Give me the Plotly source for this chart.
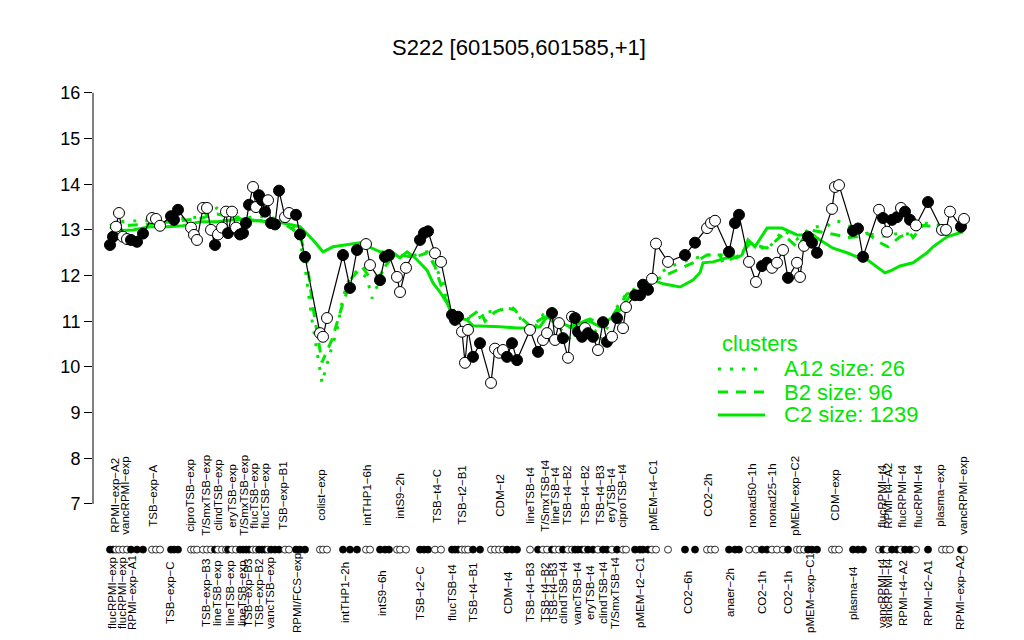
import plotly.graph_objects as go

# sample positions along the strip (left to right), expression level, filled dot or not
pos = [10, 13, 16, 19, 23, 27, 31, 37, 43, 52, 56, 60, 71, 74, 78, 91, 94, 97,
       103, 107, 111, 115, 118, 122, 126, 128, 132, 136, 140, 143, 146, 149, 153, 156,
       159, 162, 165, 168, 171, 175, 179, 185, 189, 196, 200, 205, 220, 223, 227,
       243, 250, 257, 266, 270, 280, 285, 289, 297, 300, 306, 320, 324, 328, 335, 341,
       352, 355, 358, 362, 365, 368, 373, 380, 391, 395, 399, 403, 407, 412, 417,
       430, 438, 443, 447, 452, 455, 459, 463, 468, 472, 475, 478, 482, 485, 488, 493,
       498, 503, 507, 512, 517, 523, 526, 535, 540, 543, 548, 552, 556, 568, 585, 595,
       607, 611, 615, 629, 635, 639, 649, 656, 662, 667, 672, 677, 683, 688, 697, 700,
       704, 708, 712, 717, 732, 735, 739, 753, 758, 763, 779, 783, 787, 792, 797, 801,
       805, 810, 816, 828, 842, 846, 850, 861, 864]
expr = [12.67, 12.85, 13.07, 13.37, 12.85, 12.80, 12.78, 12.74, 12.92, 13.26, 13.24, 13.09,
        13.30, 13.22, 13.44, 13.05, 12.89, 12.78, 13.48, 13.48, 13.00, 12.67, 12.90, 13.05,
        13.40, 12.93, 13.40, 13.05, 12.90, 12.93, 13.15, 13.55, 13.94, 13.50, 13.76, 13.65,
        13.40, 13.65, 13.15, 13.12, 13.86, 13.28, 13.37, 13.33, 12.90, 12.41, 10.74, 10.66,
        11.07, 12.45, 11.73, 12.56, 12.69, 12.23, 11.90, 12.41, 12.45, 11.97, 11.64, 12.17,
        12.78, 12.93, 12.97, 12.49, 12.30, 11.14, 11.03, 11.10, 10.77, 10.09, 10.81, 10.22,
        10.52, 9.65, 10.40, 10.31, 10.37, 10.22, 10.52, 10.15, 10.81, 10.33, 10.59, 10.74,
        11.18, 10.59, 10.96, 10.63, 10.20, 11.10, 11.07, 10.77, 10.66, 10.85, 10.74, 10.66,
        10.37, 10.98, 10.55, 10.66, 11.07, 10.85, 11.31, 11.57, 11.57, 11.80, 11.69, 11.93,
        12.70, 12.30, 12.45, 12.72, 13.04, 13.15, 13.20, 12.52, 13.15, 13.33, 12.30, 11.86,
        12.21, 12.28, 12.17, 12.28, 12.56, 11.95, 12.28, 11.97, 12.65, 12.85, 12.72, 12.50,
        13.46, 13.94, 13.98, 12.98, 13.03, 12.41, 13.44, 13.26, 12.96, 13.22, 13.28, 13.48,
        13.40, 13.22, 13.10, 13.61, 13.00, 13.00, 13.40, 13.07, 13.24]
filled = [1, 1, 0, 0, 0, 0, 1, 1, 1, 0, 0, 0, 1, 1, 1, 0, 0, 0,
          0, 0, 0, 1, 0, 0, 0, 1, 0, 0, 1, 1, 1, 1, 0, 0,
          1, 1, 1, 0, 1, 1, 1, 0, 0, 1, 1, 1, 0, 0, 0,
          1, 1, 1, 0, 0, 1, 1, 1, 0, 0, 0, 1, 1, 1, 0, 0,
          1, 1, 1, 0, 0, 0, 1, 1, 0, 0, 0, 0, 1, 1, 1,
          0, 1, 0, 0, 1, 0, 0, 1, 0, 0, 1, 1, 1, 0, 1, 1,
          0, 1, 1, 0, 1, 0, 0, 1, 1, 1, 1, 0, 0, 0, 1, 1,
          0, 0, 0, 1, 1, 1, 0, 0, 1, 1, 0, 0, 0, 1, 0, 0,
          0, 1, 1, 1, 0, 0, 0, 1, 1, 1, 0, 1, 0, 1, 1, 0,
          1, 1, 0, 1, 0, 0, 0, 1, 0]

# cluster profiles
a12_pos = [10, 20, 57, 100, 117, 130, 147, 157, 173, 190, 200, 205, 212, 217, 222, 230, 237,
           243, 250, 258, 267, 272, 280, 287, 297, 307, 315, 327, 333, 343, 347, 353, 373,
           382, 387, 400, 413, 418, 423, 433, 443, 453, 473, 480, 490, 500, 510, 517, 527,
           533, 553, 570, 590, 607, 620, 640, 650, 660, 667, 678, 683, 697, 710, 717, 727,
           733, 740, 757, 767, 780, 800, 813, 823, 840, 850, 863]
a12_val = [13.10, 13.18, 13.22, 13.28, 13.48, 13.30, 13.26, 13.30, 13.26, 13.20, 12.74, 12.19,
           11.03, 10.30, 9.65, 10.30, 10.80, 11.53, 11.97, 12.12, 11.95, 11.50, 11.90, 12.28,
           12.50, 12.41, 12.45, 12.52, 12.30, 11.86, 11.40, 11.18, 11.03, 11.10, 11.20, 11.25,
           11.29, 11.18, 10.92, 10.81, 11.14, 11.00, 10.55, 11.00, 11.00, 10.59, 10.96, 11.31,
           11.62, 11.69, 11.95, 12.20, 12.35, 12.45, 12.45, 12.45, 12.72, 12.63, 12.56, 12.85,
           13.00, 12.80, 13.04, 13.07, 13.07, 13.20, 13.18, 13.00, 12.93, 12.85, 12.93, 12.90,
           13.15, 13.10, 13.04, 13.00]

b2_pos = [10, 30, 60, 100, 117, 150, 180, 200, 207, 213, 222, 232, 243, 252, 262, 270, 280,
          290, 300, 315, 327, 335, 345, 355, 370, 380, 385, 395, 405, 415, 420, 430, 445,
          460, 475, 490, 505, 515, 527, 540, 555, 575, 595, 607, 620, 623, 640, 650, 667,
          683, 697, 710, 737, 747, 757, 767, 780, 788, 800, 810, 813, 823, 840, 863]
b2_val = [13.05, 13.10, 13.15, 13.25, 13.35, 13.20, 13.20, 12.90, 12.30, 11.30, 10.10, 10.60,
          11.40, 11.95, 12.20, 11.95, 12.00, 12.35, 12.45, 12.40, 12.50, 12.20, 11.50, 11.20,
          11.10, 11.25, 11.00, 11.20, 11.30, 11.25, 11.10, 10.90, 11.10, 10.90, 10.85, 11.05,
          10.90, 11.20, 11.60, 11.65, 11.90, 12.10, 12.30, 12.45, 12.45, 12.28, 12.45, 12.70,
          12.60, 12.90, 12.63, 13.00, 12.89, 12.83, 12.85, 12.93, 12.72, 12.63, 12.85, 12.93,
          12.83, 13.10, 13.05, 13.00]

c2_pos = [10, 17, 33, 50, 67, 83, 100, 117, 133, 150, 167, 183, 200, 213, 223, 233, 260, 280,
          293, 300, 307, 315, 327, 333, 340, 347, 353, 367, 373, 400, 417, 430, 440, 447, 453,
          470, 480, 487, 500, 513, 520, 527, 533, 547, 553, 563, 580, 593, 600, 603, 613, 627,
          637, 642, 648, 655, 667, 682, 697, 713, 720, 733, 747, 757, 767, 785, 792, 800, 813,
          827, 833, 847, 863]
c2_val = [13.07, 12.98, 13.00, 13.07, 13.07, 13.09, 13.18, 13.18, 13.22, 13.22, 13.18, 13.15,
          13.07, 12.78, 12.52, 12.63, 12.72, 12.52, 12.50, 12.39, 12.52, 12.39, 12.12, 11.84,
          11.64, 11.40, 11.10, 11.03, 10.90, 10.88, 10.85, 10.85, 10.88, 11.10, 11.03, 10.88,
          10.96, 11.03, 10.88, 11.10, 11.25, 11.47, 11.62, 11.64, 11.90, 11.82, 11.75, 11.90,
          12.06, 12.28, 12.30, 12.39, 12.39, 12.45, 12.78, 12.63, 13.04, 13.04, 12.89, 12.89,
          12.78, 12.60, 12.50, 12.41, 12.35, 12.06, 12.12, 12.21, 12.28, 12.50, 12.63, 12.85,
          12.96]

clusters = [("A12 size: 26", a12_pos, a12_val, "3px,9px"),
            ("B2 size: 96", b2_pos, b2_val, "10px,8px"),
            ("C2 size: 1239", c2_pos, c2_val, "solid")]

top_labels = [("RPMI\u2212exp\u2212A2", 15), ("vancRPMI\u2212exp", 25), ("TSB\u2212exp\u2212A", 53),
              ("ciproTSB\u2212exp", 90), ("T/SmxTSB\u2212exp", 106), ("clindTSB\u2212exp", 118),
              ("eryTSB\u2212exp", 132), ("T/SmxTSB\u2212exp", 144), ("flucTSB\u2212exp", 154),
              ("flucTSB\u2212exp", 165), ("TSB\u2212exp\u2212B1", 183), ("colist\u2212exp", 221),
              ("intTHP1\u22126h", 267), ("intS9\u22122h", 300), ("TSB\u2212t4\u2212C", 337),
              ("TSB\u2212t2\u2212B1", 362), ("CDM\u2212t2", 400), ("lineTSB\u2212t4", 430),
              ("T/SmxTSB\u2212t4", 445), ("lineTSB\u2212t4", 455), ("TSB\u2212t4\u2212B2", 467),
              ("TSB\u2212t4\u2212B2", 485), ("TSB\u2212t4\u2212B3", 500), ("eryTSB\u2212t4", 511),
              ("ciproTSB\u2212t4", 522), ("pMEM\u2212t4\u2212C1", 553), ("CO2\u22122h", 608),
              ("nonad50\u22121h", 652), ("nonad25\u22121h", 672), ("pMEM\u2212exp\u2212C2", 695),
              ("CDM\u2212exp", 735), ("flucRPMI\u2212t4", 782), ("RPMI\u2212t4\u2212A2", 788),
              ("flucRPMI\u2212t4", 802), ("flucRPMI\u2212t4", 818), ("plasma\u2212exp", 840),
              ("vancRPMI\u2212exp", 863)]
bottom_labels = [("flucRPMI\u2212exp", 12), ("flucRPMI\u2212exp", 22), ("RPMI\u2212exp\u2212A1", 32),
                 ("TSB\u2212exp\u2212C", 70), ("TSB\u2212exp\u2212B3", 106), ("lineTSB\u2212exp", 117),
                 ("lineTSB\u2212exp", 130), ("lineTSB\u2212exp", 142), ("TSB\u2212exp\u2212B3", 148),
                 ("TSB\u2212exp\u2212B2", 159), ("vancTSB\u2212exp", 170), ("RPMI/FCS\u2212exp", 197),
                 ("intTHP1\u22122h", 245), ("intS9\u22126h", 282), ("TSB\u2212t2\u2212C", 320),
                 ("flucTSB\u2212t4", 352), ("TSB\u2212t4\u2212B1", 373), ("CDM\u2212t4", 408),
                 ("TSB\u2212t4\u2212B3", 430), ("TSB\u2212t4\u2212B2", 445), ("TSB\u2212t4\u2212B3", 453),
                 ("clindTSB\u2212t4", 463), ("vancTSB\u2212t4", 477), ("eryTSB\u2212t4", 490),
                 ("clindTSB\u2212t4", 503), ("T/SmxTSB\u2212t4", 515), ("pMEM\u2212t2\u2212C1", 540),
                 ("CO2\u22126h", 588), ("anaer\u22122h", 630), ("CO2\u22121h", 662), ("CO2\u22121h", 688),
                 ("pMEM\u2212exp\u2212C1", 710), ("plasma\u2212t4", 753), ("vancRPMI\u2212t4", 782),
                 ("vancRPMI\u2212t4", 788), ("RPMI\u2212t4\u2212A2", 803), ("RPMI\u2212t2\u2212A1", 828),
                 ("RPMI\u2212exp\u2212A2", 860)]

GREEN = "#00e600"
FONT = "Liberation Sans, Arial, sans-serif"
strip_level = 6.0

fig = go.Figure()

for name, cx, cy, dash in clusters:
    fig.add_trace(go.Scatter(x=cx, y=cy, mode="lines", name=name, showlegend=False,
                             line=dict(color=GREEN, width=3, dash=dash)))

fills = ["black" if f else "white" for f in filled]

fig.add_trace(go.Scatter(x=pos, y=expr, mode="lines+markers", showlegend=False,
                         line=dict(color="black", width=1.2),
                         marker=dict(size=11, color=fills, line=dict(color="black", width=1))))

fig.add_trace(go.Scatter(x=pos, y=[strip_level] * len(pos), mode="markers", showlegend=False,
                         marker=dict(size=7, color=fills, line=dict(color="black", width=0.8))))

annotations = []
for txt, p in top_labels:
    annotations.append(dict(x=p, y=7.18, xref="x", yref="y", text=txt, textangle=-90,
                            showarrow=False, xanchor="center", yanchor="middle",
                            font=dict(size=11.5, color="black", family=FONT)))
for txt, p in bottom_labels:
    annotations.append(dict(x=p, y=5.05, xref="x", yref="y", text=txt, textangle=-90,
                            showarrow=False, xanchor="center", yanchor="middle",
                            font=dict(size=11.5, color="black", family=FONT)))

# hand-drawn legend in the R style
shapes = [dict(type="line", xref="paper", yref="y", x0=0, x1=0, y0=7, y1=16,
               line=dict(color="black", width=1))]
annotations.append(dict(x=0.7045, y=0.5035, xref="paper", yref="paper", text="clusters",
                        showarrow=False, xanchor="left", yanchor="middle",
                        font=dict(size=22, color=GREEN, family=FONT)))
legend_rows = [0.4579, 0.4175, 0.3772]
for (name, _, _, dash), ly in zip(clusters, legend_rows):
    shapes.append(dict(type="line", xref="paper", yref="paper", x0=0.7022, x1=0.7551,
                       y0=ly, y1=ly, line=dict(color=GREEN, width=3, dash=dash)))
    annotations.append(dict(x=0.7742, y=ly, xref="paper", yref="paper", text=name,
                            showarrow=False, xanchor="left", yanchor="middle",
                            font=dict(size=22, color=GREEN, family=FONT)))

# page body adds an 8px margin, so the figure is drawn 8px smaller
fig.update_layout(
    width=1016, height=632,
    margin=dict(l=85, r=41, t=52, b=10),
    plot_bgcolor="white", paper_bgcolor="white",
    font=dict(family=FONT, color="black"),
    title=dict(text="S222 [601505,601585,+1]", x=0.503, xref="container",
               y=0.938, yref="container", xanchor="center", yanchor="middle",
               font=dict(size=22, color="black")),
    xaxis=dict(range=[-7, 883], visible=False),
    yaxis=dict(range=[4.24, 16.72], tickvals=list(range(7, 17)), ticks="outside",
               ticklen=8, tickcolor="black", showgrid=False, zeroline=False,
               showline=False, tickfont=dict(size=18, color="black")),
    shapes=shapes,
    annotations=annotations,
    showlegend=False,
)

fig.write_html("out.html")
